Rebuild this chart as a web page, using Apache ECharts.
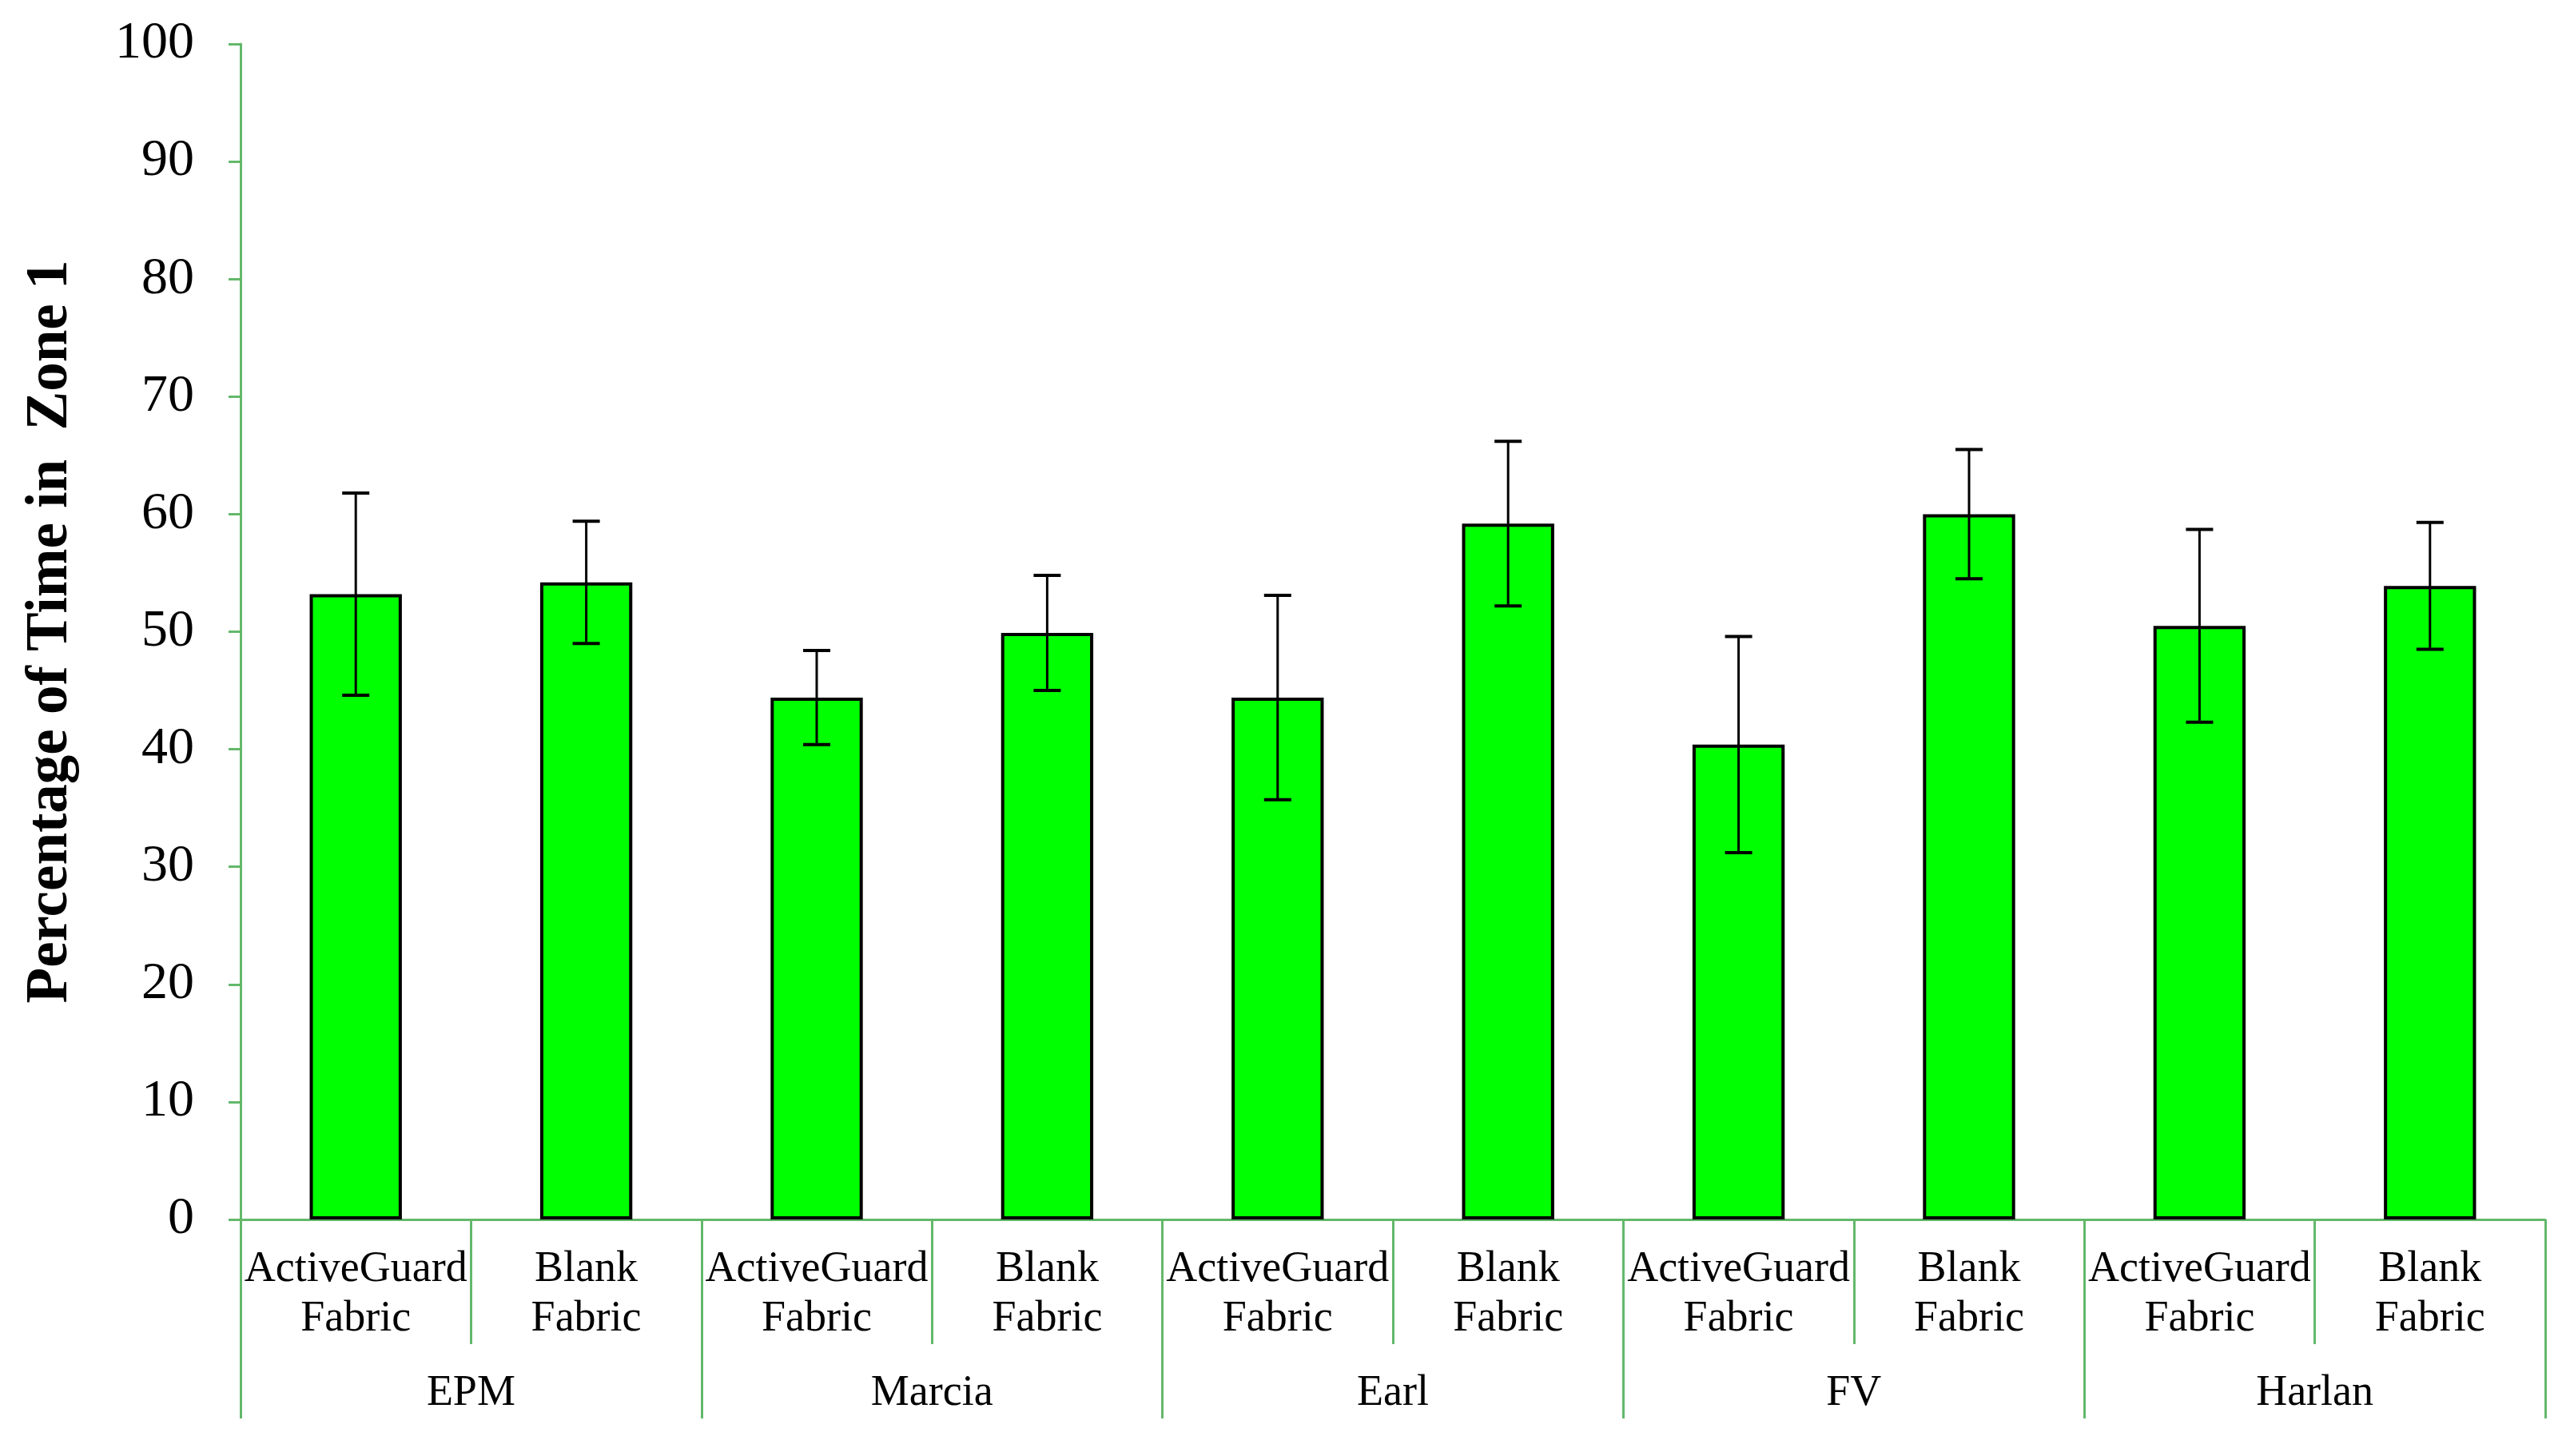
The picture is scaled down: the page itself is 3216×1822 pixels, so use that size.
<!DOCTYPE html>
<html>
<head>
<meta charset="utf-8">
<script src="https://cdn.jsdelivr.net/npm/echarts@6/dist/echarts.min.js"></script>
<style>
  html, body { margin: 0; padding: 0; background: #fff; }
  #chart { width: 3216px; height: 1822px; }
</style>
</head>
<body>
<div id="chart"></div>
<script>
// chart data
const groups = ['EPM', 'Marcia', 'Earl', 'FV', 'Harlan'];
const treatments = ['ActiveGuard\nFabric', 'Blank\nFabric'];
const means = [53.2, 54.2, 44.4, 49.9, 44.4, 59.2, 40.4, 60.0, 50.5, 53.9];
const errors = [8.6, 5.2, 4.0, 4.9, 8.7, 7.0, 9.2, 5.5, 8.2, 5.4];
const yTicks = [0, 10, 20, 30, 40, 50, 60, 70, 80, 90, 100];

// one category per bar: group x treatment
const categories = [];
groups.forEach(() => treatments.forEach(t => categories.push(t)));

const axisGreen = '#63b86a';
const serif = '"Liberation Serif", "DejaVu Serif", serif';

const chart = echarts.init(document.getElementById('chart'));

// error bar drawn from the value axis scale
function renderError(params, api) {
  const idx = api.value(0);
  const top = api.coord([idx, api.value(1)]);
  const bottom = api.coord([idx, api.value(2)]);
  const cap = 17;
  const style = { stroke: '#000', lineWidth: 3 };
  return {
    type: 'group',
    children: [
      { type: 'line', shape: { x1: top[0], y1: top[1], x2: bottom[0], y2: bottom[1] }, style },
      { type: 'line', shape: { x1: top[0] - cap, y1: top[1], x2: top[0] + cap, y2: top[1] }, style: { stroke: '#000', lineWidth: 4 } },
      { type: 'line', shape: { x1: bottom[0] - cap, y1: bottom[1], x2: bottom[0] + cap, y2: bottom[1] }, style: { stroke: '#000', lineWidth: 4 } },
    ],
  };
}

const option = {
  backgroundColor: '#fff',
  animation: false,
  textStyle: { fontFamily: serif },
  grid: { left: 301, right: 31, top: 55, bottom: 296, containLabel: false },
  xAxis: [
    {
      type: 'category',
      position: 'bottom',
      data: categories,
      axisLine: { show: true, lineStyle: { color: axisGreen, width: 3 } },
      axisTick: { show: true, interval: 0, length: 156, lineStyle: { color: axisGreen, width: 3 } },
      axisLabel: {
        interval: 0,
        margin: 32,
        color: '#000',
        fontFamily: serif,
        fontSize: 54,
        lineHeight: 62,
      },
    },
    {
      type: 'category',
      position: 'bottom',
      data: groups,
      axisLine: { show: false },
      axisTick: { show: true, interval: 0, length: 249, lineStyle: { color: axisGreen, width: 3 } },
      axisLabel: {
        interval: 0,
        margin: 187,
        color: '#000',
        fontFamily: serif,
        fontSize: 54,
        lineHeight: 62,
      },
    },
  ],
  yAxis: {
    type: 'value',
    min: yTicks[0],
    max: yTicks[yTicks.length - 1],
    interval: 10,
    name: 'Percentage of Time in  Zone 1',
    nameLocation: 'middle',
    nameGap: 200,
    nameTextStyle: { color: '#000', fontFamily: serif, fontWeight: 'bold', fontSize: 73 },
    splitLine: { show: false },
    axisLine: { show: true, lineStyle: { color: axisGreen, width: 3 } },
    axisTick: { show: true, inside: false, length: 15, lineStyle: { color: axisGreen, width: 3 } },
    axisLabel: { margin: 58, color: '#000', fontFamily: serif, fontSize: 66 },
  },
  series: [
    {
      type: 'bar',
      xAxisIndex: 0,
      data: means,
      barWidth: '40%',
      itemStyle: { color: '#00ff00', borderColor: '#000', borderWidth: 4 },
    },
    {
      type: 'custom',
      xAxisIndex: 0,
      renderItem: renderError,
      data: means.map((m, i) => [i, m + errors[i], m - errors[i]]),
      encode: { x: 0, y: [1, 2] },
      z: 10,
    },
  ],
};

chart.setOption(option);
</script>
</body>
</html>
